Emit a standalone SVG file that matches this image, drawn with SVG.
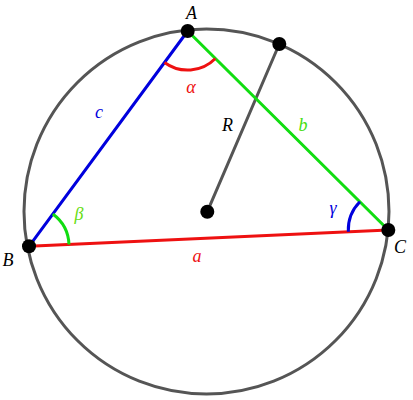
<svg xmlns="http://www.w3.org/2000/svg" width="413" height="400" viewBox="0 0 413 400">
<style>
.lbl{font-family:"Liberation Serif","DejaVu Serif",serif;font-style:italic;font-size:18px;text-anchor:middle}
.dot{fill:#000}
.edge{stroke-width:3;fill:none;stroke-linecap:round}
.arc{stroke-width:3;fill:none}
</style>
<rect width="413" height="400" fill="#fff"/>
<g id="circle"><circle cx="206.5" cy="211.5" r="182.5" fill="none" stroke="#555" stroke-width="3"/></g>
<g id="connectors">
<line class="edge" x1="279.3" y1="44" x2="207.3" y2="211.7" stroke="#555"/>
<line class="edge" x1="29" y1="246.3" x2="187.7" y2="31" stroke="#0000dd"/>
<line class="edge" x1="187.7" y1="31" x2="388.3" y2="230" stroke="#11dd11"/>
<line class="edge" x1="29" y1="246.3" x2="388.3" y2="230" stroke="#ee1111"/>
<path class="arc" d="M164.5,62.5 A39,39 0 0 0 215.4,58.5" stroke="#ee1111"/>
<path class="arc" d="M52.8,214 A40,40 0 0 1 69,244.5" stroke="#11dd11"/>
<path class="arc" d="M359.9,201.8 A40,40 0 0 0 348.3,231.8" stroke="#0000dd"/>
</g>
<g id="A"><circle class="dot" cx="187.7" cy="31" r="7"/><text class="lbl" x="191.5" y="19">A</text></g>
<g id="B"><circle class="dot" cx="29" cy="246.3" r="7"/><text class="lbl" x="8" y="266">B</text></g>
<g id="C"><circle class="dot" cx="388.3" cy="230" r="7"/><text class="lbl" x="400" y="253">C</text></g>
<g id="P"><circle class="dot" cx="279.3" cy="44" r="7"/></g>
<g id="O"><circle class="dot" cx="207.3" cy="211.7" r="7"/></g>
<g id="labels">
<text class="lbl" x="191" y="93" fill="#ee1111">α</text>
<text class="lbl" x="99" y="118" fill="#0000dd">c</text>
<text class="lbl" x="227.5" y="131" fill="#000">R</text>
<text class="lbl" x="303" y="131" fill="#44dd11">b</text>
<text class="lbl" x="79" y="220" fill="#66dd11">β</text>
<text class="lbl" x="333" y="214" fill="#0000dd">γ</text>
<text class="lbl" x="197" y="262" fill="#ee1111">a</text>
</g>
</svg>
